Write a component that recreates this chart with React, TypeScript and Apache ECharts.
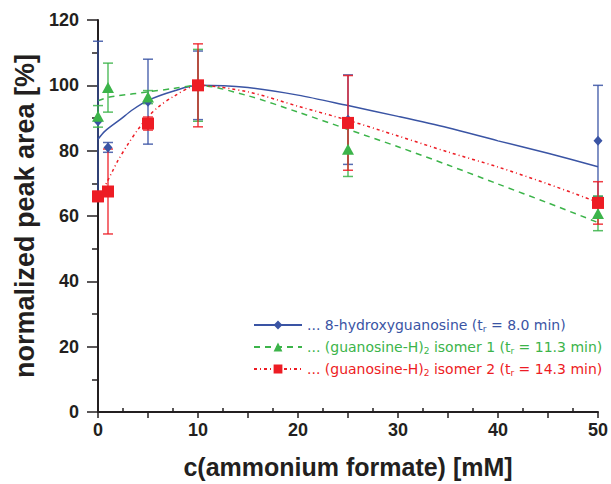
import React, { useEffect, useRef } from "react";
import * as echarts from "echarts";

const concentrations = [0, 1, 5, 10, 25, 50];
const hydroxyMean = [89, 81, 95, 100, 89.5, 83];
const hydroxyErr = [24.5, 1.5, 13, 10.5, 13.7, 17];
const isomer1Mean = [90.5, 99.3, 96.4, 100, 80.4, 60.8];
const isomer1Err = [3.3, 7.5, 2, 11, 8.3, 5.3];
const isomer2Mean = [66, 67.5, 88.3, 100, 88.5, 64];
const isomer2Err = [1.5, 13, 2, 12.7, 14.5, 6.5];

const hydroxyFitX = [0, 0.7, 2.2, 3.5, 5, 7.5, 10, 15, 20, 25, 30, 35, 40, 45, 50];
const hydroxyFitY = [83.5, 86, 89.5, 92.6, 95.4, 98.2, 100, 99.3, 97, 93.8, 90.5, 87, 83, 79.2, 75.1];
const isomer1FitX = [0, 1, 2, 5, 7.5, 10, 15, 20, 25, 30, 35, 40, 45, 50];
const isomer1FitY = [95.3, 96.3, 96.8, 98, 99, 100, 96.8, 91.8, 86.5, 81.2, 75.6, 69.8, 64, 58];
const isomer2FitX = [0, 0.5, 1, 1.5, 2, 3, 4, 5, 6, 7.5, 10, 15, 20, 25, 30, 35, 40, 45, 50];
const isomer2FitY = [65.5, 68, 71, 74, 77, 82, 86.5, 90.3, 93.3, 96.5, 100, 98, 93.6, 89.3, 84.5, 79.6, 75, 69.8, 64.2];

const xTicks = [0, 10, 20, 30, 40, 50];

const BLUE = "#3a54a4";
const GREEN = "#3cb44a";
const RED = "#ed1c24";
const INK = "#231f20";
const FONT = "Liberation Sans, Arial, Helvetica, sans-serif";
const LEGEND_FONT = "DejaVu Sans, Verdana, sans-serif";

const NAME_H = "8-hydroxyguanosine";
const NAME_I1 = "isomer 1";
const NAME_I2 = "isomer 2";

function errorSeries(name: string, means: number[], errs: number[], color: string) {
  return {
    type: "custom",
    name: name + " err",
    clip: false,
    z: 3,
    encode: { x: 0, y: [1, 2] },
    data: concentrations.map((c, i) => [c, means[i] - errs[i], means[i] + errs[i]]),
    renderItem: (params: any, api: any) => {
      const x = api.value(0);
      const top = api.coord([x, api.value(2)]);
      const bot = api.coord([x, api.value(1)]);
      const hw = 5;
      const st = { stroke: color, lineWidth: 1.5, opacity: 0.85 };
      return {
        type: "group",
        children: [
          { type: "line", shape: { x1: top[0], y1: top[1], x2: bot[0], y2: bot[1] }, style: st },
          { type: "line", shape: { x1: top[0] - hw, y1: top[1], x2: top[0] + hw, y2: top[1] }, style: st },
          { type: "line", shape: { x1: bot[0] - hw, y1: bot[1], x2: bot[0] + hw, y2: bot[1] }, style: st },
        ],
      };
    },
  };
}

export default function App() {
  const ref = useRef<HTMLDivElement>(null);
  useEffect(() => {
    if (!ref.current) return;
    const chart = echarts.init(ref.current, null, { renderer: "svg" });
    const labelMap: Record<string, string> = {
      [NAME_H]: "{b|... 8-hydroxyguanosine (t}{bs|r}{b| = 8.0 min)}",
      [NAME_I1]: "{g|... (guanosine-H)}{gs|2}{g| isomer 1 (t}{gs|r}{g| = 11.3 min)}",
      [NAME_I2]: "{r|... (guanosine-H)}{rs|2}{r| isomer 2 (t}{rs|r}{r| = 14.3 min)}",
    };
    const main = (c: string) => ({ color: c, fontSize: 14, fontFamily: LEGEND_FONT });
    const sub = (c: string) => ({ color: c, fontSize: 9, fontFamily: LEGEND_FONT, padding: [7, 0, 0, 0] });
    chart.setOption({
      animation: false,
      grid: { left: 98, right: 13, top: 20, bottom: 70 },
      xAxis: [
        {
          type: "value",
          min: 0,
          max: 50,
          interval: 5,
          name: "c(ammonium formate) [mM]",
          nameLocation: "middle",
          nameGap: 42,
          nameTextStyle: { fontSize: 25, fontWeight: "bold", color: INK, fontFamily: FONT },
          axisLine: { lineStyle: { color: INK, width: 2 } },
          axisTick: { length: 6, lineStyle: { color: INK, width: 1.5 } },
          splitLine: { show: false },
          axisLabel: {
            margin: 9,
            fontSize: 18,
            fontWeight: "bold",
            color: INK,
            fontFamily: FONT,
            formatter: (v: number) => (xTicks.includes(v) ? String(v) : ""),
          },
        },
        {
          type: "value",
          min: 0,
          max: 50,
          interval: 5,
          position: "bottom",
          axisLine: { show: false },
          axisTick: { show: false, inside: true },
          minorTick: { show: true, splitNumber: 2, length: 4, lineStyle: { color: INK, width: 1.5 } },
          axisLabel: { show: false },
          splitLine: { show: false },
        },
      ],
      yAxis: {
        type: "value",
        min: 0,
        max: 120,
        interval: 20,
        name: "normalized peak area [%]",
        nameLocation: "middle",
        nameGap: 59,
        nameTextStyle: { fontSize: 27, fontWeight: "bold", color: INK, fontFamily: FONT },
        axisLine: { show: true, lineStyle: { color: INK, width: 2 } },
        axisTick: { show: true, length: 11, lineStyle: { color: INK, width: 1.5 } },
        minorTick: { show: true, splitNumber: 2, length: 6, lineStyle: { color: INK, width: 1.5 } },
        splitLine: { show: false },
        axisLabel: {
          margin: 19,
          fontSize: 18,
          fontWeight: "bold",
          color: INK,
          fontFamily: FONT,
        },
      },
      legend: {
        orient: "vertical",
        left: 253,
        top: 318,
        padding: 0,
        itemWidth: 48,
        itemHeight: 11,
        itemGap: 7,
        data: [NAME_H, NAME_I1, NAME_I2],
        formatter: (name: string) => labelMap[name],
        textStyle: {
          rich: {
            b: main(BLUE), bs: sub(BLUE),
            g: main(GREEN), gs: sub(GREEN),
            r: main(RED), rs: sub(RED),
          },
        },
      },
      series: [
        {
          type: "line", name: NAME_H, smooth: 0.3, showSymbol: false, symbol: "diamond", z: 2,
          data: hydroxyFitX.map((x, i) => [x, hydroxyFitY[i]]),
          lineStyle: { color: BLUE, width: 1.5 }, itemStyle: { color: BLUE },
        },
        {
          type: "line", name: NAME_I1, smooth: 0.3, showSymbol: false, symbol: "triangle", z: 2,
          data: isomer1FitX.map((x, i) => [x, isomer1FitY[i]]),
          lineStyle: { color: GREEN, width: 1.5, type: [6, 5] }, itemStyle: { color: GREEN },
        },
        {
          type: "line", name: NAME_I2, smooth: 0.3, showSymbol: false, symbol: "rect", z: 2,
          data: isomer2FitX.map((x, i) => [x, isomer2FitY[i]]),
          lineStyle: { color: RED, width: 1.5, type: [3, 3, 1, 3] }, itemStyle: { color: RED },
        },
        errorSeries(NAME_H, hydroxyMean, hydroxyErr, BLUE),
        errorSeries(NAME_I1, isomer1Mean, isomer1Err, GREEN),
        errorSeries(NAME_I2, isomer2Mean, isomer2Err, RED),
        {
          type: "scatter", name: NAME_H + " pts", symbol: "diamond", symbolSize: [9, 10], z: 5, clip: false,
          data: concentrations.map((c, i) => [c, hydroxyMean[i]]), itemStyle: { color: BLUE, opacity: 1 },
        },
        {
          type: "scatter", name: NAME_I1 + " pts", symbol: "triangle", symbolSize: [12, 11], z: 5, clip: false,
          data: concentrations.map((c, i) => [c, isomer1Mean[i]]), itemStyle: { color: GREEN, opacity: 1 },
        },
        {
          type: "scatter", name: NAME_I2 + " pts", symbol: "rect", symbolSize: 12, z: 5, clip: false,
          data: concentrations.map((c, i) => [c, isomer2Mean[i]]), itemStyle: { color: RED, opacity: 1 },
        },
      ],
    });
    return () => chart.dispose();
  }, []);
  return <div ref={ref} style={{ width: 611, height: 484, position: "absolute", left: 0, top: 0 }} />;
}
